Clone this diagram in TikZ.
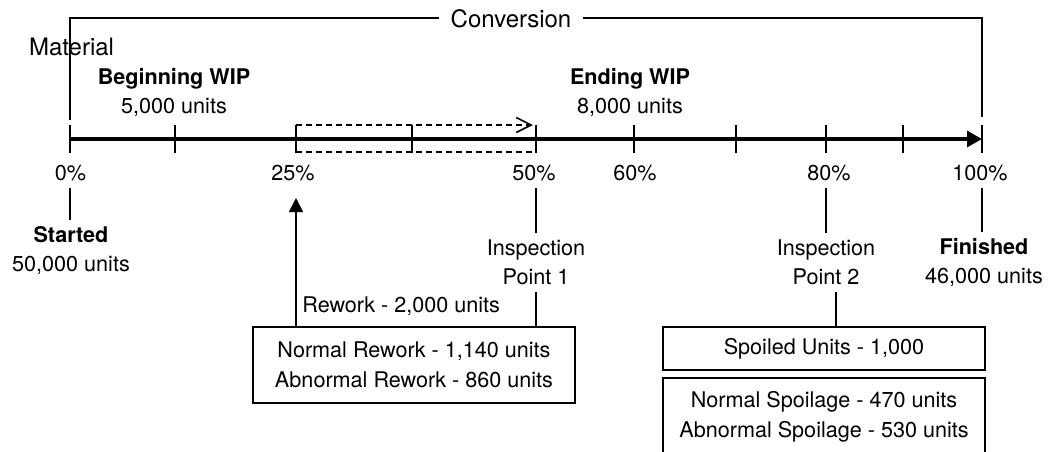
\documentclass[tikz,border=0pt]{standalone}
\usepackage{fontspec}
\setmainfont{TeX Gyre Heros}
\usetikzlibrary{arrows.meta}

\begin{document}
\begin{tikzpicture}[
    x=0.5pt, y=-0.5pt,
    note/.style={
        font=\fontsize{10.8}{14.5}\selectfont,
        align=center
    },
    pct/.style={font=\fontsize{10.8}{13}\selectfont, anchor=base},
    heading/.style={font=\fontsize{12}{14}\selectfont, anchor=base},
    block/.style={
        rectangle, draw=black, line width=1.2pt,
        minimum width=161pt, inner sep=0pt,
        font=\fontsize{10.8}{15}\selectfont,
        align=center
    },
    axis/.style={line width=1.6pt, -{Triangle[length=7.5pt,width=8pt]}},
    tickmark/.style={line width=0.8pt},
    link/.style={line width=0.9pt},
    arrow/.style={line width=0.9pt, -{Triangle[length=7pt,width=7pt]}},
    dashline/.style={line width=0.7pt, dash pattern=on 3pt off 2pt},
    dasharrow/.style={dashline, -{Straight Barb[length=7.5pt,width=7.5pt,line width=0.8pt]}},
]
\useasboundingbox (0,0) rectangle (1050,451);

%% Conversion bracket
\node[heading, inner xsep=5.5pt] (conv) at (511,27) {Conversion};
\node[heading] (mat) at (71.5,55) {Material};
\coordinate (m0) at (70,120);
\coordinate (m100) at (982,117);
\draw[link] (m0) |- (conv.west);
\draw[link] (conv.east) -| (m100);

%% WIP
\node[note] (bwip) at (174,93) {\textbf{Beginning WIP}\\5,000 units};
\node[note] (ewip) at (630,93) {\textbf{Ending WIP}\\8,000 units};

%% Axis
\coordinate (t0) at (70,139);
\coordinate (t12) at (175,139);
\coordinate (t25) at (296,139);
\coordinate (t37) at (412,139);
\coordinate (t50) at (536,139);
\coordinate (t60) at (634,139);
\coordinate (t70) at (736,139);
\coordinate (t80) at (826,139);
\coordinate (t90) at (903,139);
\coordinate (t100) at (982,139);
\draw[axis] (t0) -- (t100);

\draw[tickmark] ([yshift=7pt]t0) -- ([yshift=-7pt]t0);
\draw[tickmark] ([yshift=7pt]t12) -- ([yshift=-7pt]t12);
\draw[tickmark] ([yshift=7pt]t25) -- ([yshift=-7pt]t25);
\draw[tickmark] ([yshift=7pt]t37) -- ([yshift=-7pt]t37);
\draw[tickmark] ([yshift=7pt]t50) -- ([yshift=-7pt]t50);
\draw[tickmark] ([yshift=7pt]t60) -- ([yshift=-7pt]t60);
\draw[tickmark] ([yshift=7pt]t70) -- ([yshift=-7pt]t70);
\draw[tickmark] ([yshift=7pt]t80) -- ([yshift=-7pt]t80);
\draw[tickmark] ([yshift=7pt]t90) -- ([yshift=-7pt]t90);
\draw[tickmark] ([yshift=7pt]t100) -- ([yshift=-7pt]t100);

%% Dashed span 25% -> 50%
\draw[dasharrow] ([yshift=7pt]t25) -- ([yshift=7pt,xshift=-1.5pt]t50);
\draw[dashline] ([yshift=-6.5pt]t25) -- ([yshift=-6.5pt]t50);

%% Percentages
\node[pct] (p0) at (70.5,180) {0\%};
\node[pct] (p25) at (293,180) {25\%};
\node[pct] (p50) at (534,180) {50\%};
\node[pct] (p60) at (635,180) {60\%};
\node[pct] (p80) at (829,180) {80\%};
\node[pct] (p100) at (980,180) {100\%};

%% Points below the axis
\node[note] (started) at (71,251) {\textbf{Started}\\50,000 units};
\node[note] (insp1) at (536,262.5) {Inspection\\Point 1};
\node[note] (insp2) at (826,262.5) {Inspection\\Point 2};
\node[note] (finished) at (984,263) {\textbf{Finished}\\46,000 units};

\draw[link] (t0 |- p0.south) -- (t0 |- started.north);
\draw[link] (t50 |- p50.south) -- (t50 |- insp1.north);
\draw[link] (t80 |- p80.south) -- (t80 |- insp2.north);
\draw[link] (t100 |- p100.south) -- (t100 |- finished.north);

%% Rework
\node[block, minimum height=38pt] (rwbox) at (414,365)
    {Normal Rework - 1,140 units\\Abnormal Rework - 860 units};
\node[anchor=base west, inner sep=0pt, font=\fontsize{10.8}{13}\selectfont]
    (rwlabel) at (302,312) {Rework - 2,000 units};
\coordinate (rwtip) at (296,198);
\draw[arrow] (rwtip |- rwbox.north) -- (rwtip);
\draw[link] (t50 |- insp1.south) -- (t50 |- rwbox.north);

%% Spoilage
\node[block, minimum height=21.5pt] (spbox) at (824,348.5) {Spoiled Units - 1,000};
\node[block, minimum height=39pt] (nsbox) at (824,417)
    {Normal Spoilage - 470 units\\Abnormal Spoilage - 530 units};
\coordinate (sp) at ([xshift=5pt]insp2.south);
\draw[link] (sp) -- (sp |- spbox.north);

\end{tikzpicture}
\end{document}
